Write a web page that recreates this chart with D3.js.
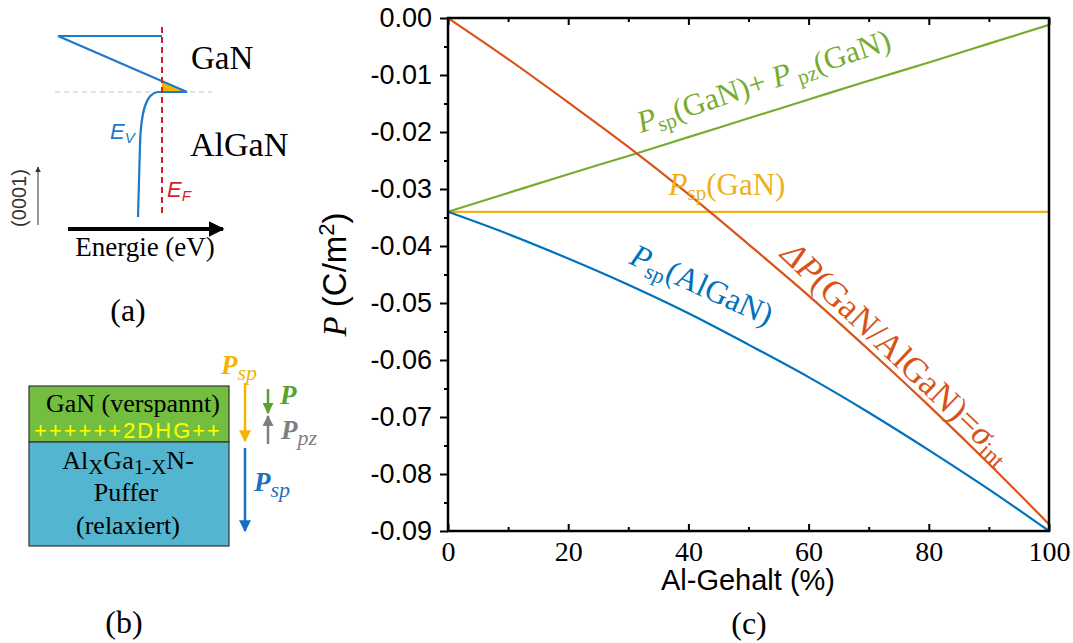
<!DOCTYPE html>
<html><head><meta charset="utf-8">
<script src="https://cdn.jsdelivr.net/npm/d3@7"></script>
<style>body{margin:0;background:#fff}svg{display:block}</style>
</head><body><svg id="c" width="1073" height="643"></svg>
<script>
// ---- data ----
const alContent   = [0, 10, 20, 30, 40, 50, 60, 70, 80, 90, 100];
const pspGaN      = [-0.034, -0.034, -0.034, -0.034, -0.034, -0.034, -0.034, -0.034, -0.034, -0.034, -0.034];
const pspAlGaN    = [-0.0340, -0.0379, -0.0422, -0.0468, -0.0518, -0.0573, -0.0630, -0.0692, -0.0758, -0.0827, -0.0900];
const pTotalGaN   = [-0.0340, -0.0307, -0.0274, -0.0242, -0.0209, -0.0176, -0.0143, -0.0110, -0.0078, -0.0045, -0.0012];
const deltaP      = [0.0000, -0.0072, -0.0148, -0.0226, -0.0309, -0.0397, -0.0487, -0.0582, -0.0680, -0.0782, -0.0888];
const yTicks      = [0, -0.01, -0.02, -0.03, -0.04, -0.05, -0.06, -0.07, -0.08, -0.09];
const yMinor      = [-0.005, -0.015, -0.025, -0.035, -0.045, -0.055, -0.065, -0.075, -0.085];
const xTicks      = [0, 20, 40, 60, 80, 100];
const xMinor      = [10, 30, 50, 70, 90];

const svg = d3.select("#c");
const SERIF = "'Liberation Serif','Times New Roman',serif";
const SANS  = "'Liberation Sans',Arial,sans-serif";
const C = {blue:"#0072BD", orange:"#D95319", yellow:"#EDB120", green:"#77AC30"};

const x = d3.scaleLinear().domain([0, 100]).range([448, 1049]);
const y = d3.scaleLinear().domain([-0.09, 0]).range([531, 18]);

// ---- panel (c) axes ----
const gL = svg.append("g").attr("transform", `translate(${x(0)},0)`)
  .call(d3.axisLeft(y).tickValues(yTicks).tickSize(8).tickPadding(8).tickFormat(d => d.toFixed(2)));
gL.selectAll("text").attr("font-family", SANS).attr("font-size", 27).attr("fill", "#000");
svg.append("g").attr("transform", `translate(${x(0)},0)`)
  .call(d3.axisLeft(y).tickValues(yMinor).tickSize(4).tickFormat(""));

const gB = svg.append("g").attr("transform", `translate(0,${y(-0.09)})`)
  .call(d3.axisBottom(x).tickValues(xTicks).tickSize(-7).tickPadding(10).tickFormat(d => d));
gB.selectAll("text").attr("font-family", SERIF).attr("font-size", 28).attr("fill", "#000");
svg.append("g").attr("transform", `translate(0,${y(-0.09)})`)
  .call(d3.axisBottom(x).tickValues(xMinor).tickSize(-4).tickFormat(""));
svg.append("g").attr("transform", `translate(0,${y(0)})`)
  .call(d3.axisTop(x).tickValues(xTicks).tickSize(-7).tickFormat(""));
svg.append("g").attr("transform", `translate(0,${y(0)})`)
  .call(d3.axisTop(x).tickValues(xMinor).tickSize(-4).tickFormat(""));
svg.selectAll(".domain").remove();
svg.selectAll(".tick line").attr("stroke", "#000").attr("stroke-width", 2);

// ---- lines ----
const line = d3.line().x((d, i) => x(alContent[i])).y(d => y(d)).curve(d3.curveMonotoneX);
const series = [[pspGaN, C.yellow], [pTotalGaN, C.green], [pspAlGaN, C.blue], [deltaP, C.orange]];
series.forEach(([s, col]) => {
  svg.append("path").datum(s).attr("d", line).attr("fill", "none")
    .attr("stroke", col).attr("stroke-width", 2.2);
});

// frame
svg.append("rect").attr("x", x(0)).attr("y", y(0)).attr("width", x(100) - x(0)).attr("height", y(-0.09) - y(0))
  .attr("fill", "none").attr("stroke", "#000").attr("stroke-width", 2.5);

// axis titles
const yl = svg.append("text").attr("transform", `translate(346,${(y(0)+y(-0.09))/2}) rotate(-90)`)
  .attr("text-anchor", "middle").attr("font-size", 33);
yl.append("tspan").attr("font-family", SERIF).attr("font-style", "italic").text("P");
yl.append("tspan").attr("font-family", SANS).text(" (C/m");
yl.append("tspan").attr("font-family", SANS).attr("font-size", 22).attr("baseline-shift", "55%").text("2");
yl.append("tspan").attr("font-family", SANS).text(")");

svg.append("text").attr("x", 748).attr("y", 590).attr("text-anchor", "middle")
  .attr("font-family", SANS).attr("font-size", 29).text("Al-Gehalt (%)");
svg.append("text").attr("x", 749).attr("y", 634).attr("text-anchor", "middle")
  .attr("font-family", SERIF).attr("font-size", 32).text("(c)");

// labels with subscripts: parts = [[text, style]] 'i' italic, 's' subscript, 'n' normal
function label(tx, ty, rot, col, size, parts, anchor) {
  const t = svg.append("text").attr("transform", `translate(${tx},${ty}) rotate(${rot})`)
    .attr("font-family", SERIF).attr("font-size", size).attr("fill", col)
    .attr("text-anchor", anchor || "start");
  parts.forEach(([s, st]) => {
    const sp = t.append("tspan").text(s);
    if (st.includes("i")) sp.attr("font-style", "italic");
    if (st.includes("s")) sp.attr("font-size", size * 0.68).attr("baseline-shift", "-25%");
  });
  return t;
}
label(641, 133, -18.5, C.green, 31, [["P","i"],["sp","s"],["(GaN)+ ","n"],["P","i"],[" pz","s"],["(GaN)","n"]]);
label(727, 195, 0, C.yellow, 31, [["P","i"],["sp","s"],["(GaN)","n"]], "middle");
label(628, 263, 24.5, C.blue, 32, [["P","i"],["sp","s"],["(AlGaN)","n"]]);
label(779, 256, 43.5, C.orange, 35, [["ΔP","i"],["(GaN/AlGaN)=","n"],["σ","i"],["int","s"]]);

// ---- panel (a) ----
const a = svg.append("g");
a.append("line").attr("x1", 55).attr("y1", 92).attr("x2", 212).attr("y2", 92)
  .attr("stroke", "#c8c8c8").attr("stroke-width", 1.2).attr("stroke-dasharray", "5,4");
a.append("path").attr("d", "M162,81 L187,92 L162,92 Z").attr("fill", "#F5B800");
a.append("path").attr("d", "M162,36 L58,36 L187,92 L158,92 C147,93 141,108 140,145 L138,217")
  .attr("fill", "none").attr("stroke", "#1f78c8").attr("stroke-width", 2.2);
a.append("line").attr("x1", 162).attr("y1", 27).attr("x2", 162).attr("y2", 217)
  .attr("stroke", "#d21f26").attr("stroke-width", 2).attr("stroke-dasharray", "6,4");
a.append("text").attr("x", 191).attr("y", 69).attr("font-family", SERIF).attr("font-size", 33).text("GaN");
a.append("text").attr("x", 190).attr("y", 156).attr("font-family", SERIF).attr("font-size", 34).text("AlGaN");
const ev = a.append("text").attr("x", 110).attr("y", 139).attr("font-family", SANS).attr("font-style", "italic")
  .attr("font-size", 22).attr("fill", "#1f78c8");
ev.append("tspan").text("E"); ev.append("tspan").attr("font-size", 15).attr("baseline-shift", "-25%").text("V");
const ef = a.append("text").attr("x", 167).attr("y", 197).attr("font-family", SANS).attr("font-style", "italic")
  .attr("font-size", 22).attr("fill", "#d21f26");
ef.append("tspan").text("E"); ef.append("tspan").attr("font-size", 15).attr("baseline-shift", "-25%").text("F");
a.append("text").attr("transform", "translate(26,198) rotate(-90)").attr("text-anchor", "middle")
  .attr("font-family", SANS).attr("font-size", 20).attr("fill", "#333").text("(0001)");
const defs = svg.append("defs");
function marker(id, col, w, h) {
  defs.append("marker").attr("id", id).attr("viewBox", "0 0 10 10").attr("refX", 9).attr("refY", 5)
    .attr("markerWidth", w).attr("markerHeight", h).attr("orient", "auto").attr("markerUnits", "userSpaceOnUse")
    .append("path").attr("d", "M0,0 L10,5 L0,10 Z").attr("fill", col);
}
marker("mThin", "#333", 6, 8);
marker("mBlack", "#000", 16, 16);
marker("mYel", "#F5B400", 12, 12);
marker("mBlue", "#1a6fc0", 12, 12);
marker("mGreen", "#5aa02c", 11, 11);
marker("mGray", "#7f7f7f", 11, 11);
a.append("line").attr("x1", 38).attr("y1", 225).attr("x2", 38).attr("y2", 167)
  .attr("stroke", "#333").attr("stroke-width", 1).attr("marker-end", "url(#mThin)");
a.append("line").attr("x1", 68).attr("y1", 229).attr("x2", 223).attr("y2", 229)
  .attr("stroke", "#000").attr("stroke-width", 4).attr("marker-end", "url(#mBlack)");
a.append("text").attr("x", 145).attr("y", 256).attr("text-anchor", "middle")
  .attr("font-family", SERIF).attr("font-size", 27).text("Energie (eV)");
a.append("text").attr("x", 128).attr("y", 321).attr("text-anchor", "middle")
  .attr("font-family", SERIF).attr("font-size", 32).text("(a)");

// ---- panel (b) ----
const b = svg.append("g");
b.append("rect").attr("x", 29).attr("y", 386).attr("width", 200).attr("height", 56)
  .attr("fill", "#73BE3F").attr("stroke", "#333").attr("stroke-width", 1.2);
b.append("rect").attr("x", 29).attr("y", 442).attr("width", 200).attr("height", 104)
  .attr("fill", "#54B5D0").attr("stroke", "#333").attr("stroke-width", 1.2);
b.append("text").attr("x", 133).attr("y", 412).attr("text-anchor", "middle")
  .attr("font-family", SERIF).attr("font-size", 26).text("GaN (verspannt)");
b.append("text").attr("x", 128).attr("y", 438).attr("text-anchor", "middle")
  .attr("font-family", SANS).attr("font-size", 22).attr("letter-spacing", 2).attr("fill", "#ffff00").text("++++++2DHG++");
const alx = b.append("text").attr("x", 128).attr("y", 469).attr("text-anchor", "middle")
  .attr("font-family", SERIF).attr("font-size", 26);
alx.append("tspan").text("Al");
alx.append("tspan").attr("font-size", 21).attr("baseline-shift", "-25%").text("X");
alx.append("tspan").text("Ga");
alx.append("tspan").attr("font-size", 21).attr("baseline-shift", "-25%").text("1-X");
alx.append("tspan").text("N-");
b.append("text").attr("x", 126).attr("y", 501).attr("text-anchor", "middle")
  .attr("font-family", SERIF).attr("font-size", 26).text("Puffer");
b.append("text").attr("x", 128).attr("y", 534).attr("text-anchor", "middle")
  .attr("font-family", SERIF).attr("font-size", 26).text("(relaxiert)");
b.append("line").attr("x1", 245).attr("y1", 383).attr("x2", 245).attr("y2", 441)
  .attr("stroke", "#F5B400").attr("stroke-width", 2.5).attr("marker-end", "url(#mYel)");
b.append("line").attr("x1", 245).attr("y1", 448).attr("x2", 245).attr("y2", 531)
  .attr("stroke", "#1a6fc0").attr("stroke-width", 2.5).attr("marker-end", "url(#mBlue)");
b.append("line").attr("x1", 268).attr("y1", 389).attr("x2", 268).attr("y2", 413)
  .attr("stroke", "#5aa02c").attr("stroke-width", 2.5).attr("marker-end", "url(#mGreen)");
b.append("line").attr("x1", 268).attr("y1", 444).attr("x2", 268).attr("y2", 416)
  .attr("stroke", "#7f7f7f").attr("stroke-width", 2.5).attr("marker-end", "url(#mGray)");
function bl(tx, ty, col, main, sub) {
  const t = b.append("text").attr("x", tx).attr("y", ty).attr("font-family", SERIF)
    .attr("font-style", "italic").attr("fill", col).attr("font-size", 27);
  t.append("tspan").attr("font-weight", "bold").text(main);
  if (sub) t.append("tspan").attr("font-size", 22).attr("baseline-shift", "-25%").text(sub);
}
bl(221, 374, "#F5B400", "P", "sp");
bl(254, 491, "#1a6fc0", "P", "sp");
bl(280, 404, "#5aa02c", "P", null);
bl(281, 439, "#7f7f7f", "P", "pz");
b.append("text").attr("x", 124).attr("y", 633).attr("text-anchor", "middle")
  .attr("font-family", SERIF).attr("font-size", 32).text("(b)");
</script></body></html>
